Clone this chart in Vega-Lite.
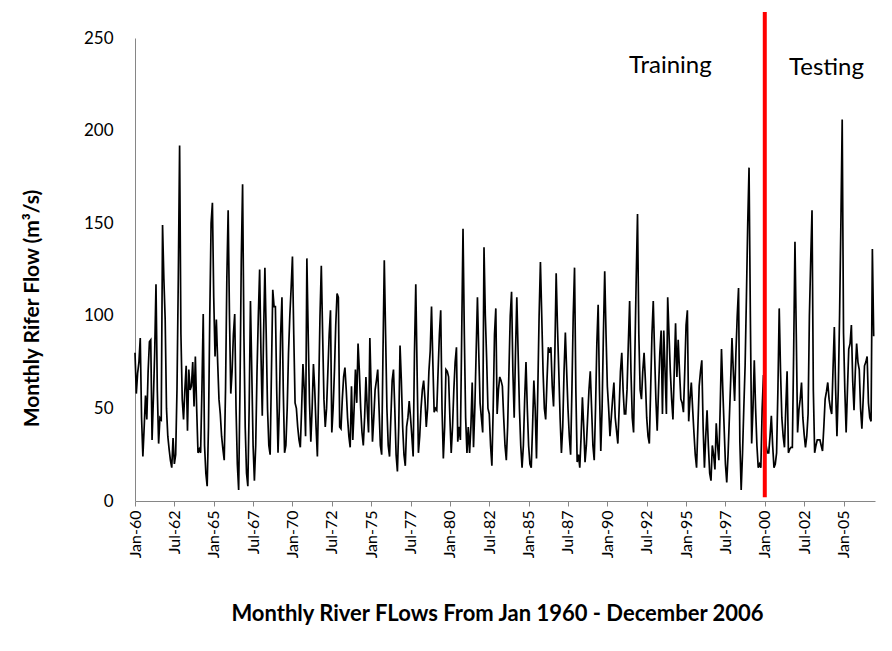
{
"$schema": "https://vega.github.io/schema/vega-lite/v6.json",
"width": 740,
"height": 463,
"autosize": {"type": "none"},
"padding": {"left": 135, "top": 38, "right": 17, "bottom": 150},
"background": "white",
"config": {"view": {"stroke": null}, "font": "Lato"},
"layer": [
{
"data": {"values": [
{"month":0,"flow":80},{"month":1,"flow":58},{"month":2,"flow":69},{"month":3,"flow":75},{"month":4,"flow":88},{"month":5,"flow":45},{"month":6,"flow":24},{"month":7,"flow":40},{"month":8,"flow":57},{"month":9,"flow":44},{"month":10,"flow":70},{"month":11,"flow":86},
{"month":12,"flow":87},{"month":13,"flow":33},{"month":14,"flow":55},{"month":15,"flow":80},{"month":16,"flow":117},{"month":17,"flow":60},{"month":18,"flow":31},{"month":19,"flow":45},{"month":20,"flow":44},{"month":21,"flow":149},{"month":22,"flow":120},{"month":23,"flow":98},
{"month":24,"flow":50},{"month":25,"flow":35},{"month":26,"flow":28},{"month":27,"flow":22},{"month":28,"flow":18},{"month":29,"flow":34},{"month":30,"flow":20},{"month":31,"flow":25},{"month":32,"flow":60},{"month":33,"flow":120},{"month":34,"flow":192},{"month":35,"flow":90},
{"month":36,"flow":55},{"month":37,"flow":44},{"month":38,"flow":60},{"month":39,"flow":73},{"month":40,"flow":38},{"month":41,"flow":71},{"month":42,"flow":60},{"month":43,"flow":62},{"month":44,"flow":75},{"month":45,"flow":51},{"month":46,"flow":78},{"month":47,"flow":50},
{"month":48,"flow":26},{"month":49,"flow":28},{"month":50,"flow":26},{"month":51,"flow":60},{"month":52,"flow":101},{"month":53,"flow":30},{"month":54,"flow":15},{"month":55,"flow":8},{"month":56,"flow":40},{"month":57,"flow":100},{"month":58,"flow":150},{"month":59,"flow":161},
{"month":60,"flow":110},{"month":61,"flow":78},{"month":62,"flow":98},{"month":63,"flow":75},{"month":64,"flow":55},{"month":65,"flow":47},{"month":66,"flow":35},{"month":67,"flow":28},{"month":68,"flow":22},{"month":69,"flow":60},{"month":70,"flow":120},{"month":71,"flow":157},
{"month":72,"flow":100},{"month":73,"flow":58},{"month":74,"flow":70},{"month":75,"flow":90},{"month":76,"flow":101},{"month":77,"flow":50},{"month":78,"flow":20},{"month":79,"flow":6},{"month":80,"flow":60},{"month":81,"flow":130},{"month":82,"flow":171},{"month":83,"flow":90},
{"month":84,"flow":40},{"month":85,"flow":15},{"month":86,"flow":8},{"month":87,"flow":50},{"month":88,"flow":108},{"month":89,"flow":70},{"month":90,"flow":30},{"month":91,"flow":11},{"month":92,"flow":30},{"month":93,"flow":70},{"month":94,"flow":100},{"month":95,"flow":125},
{"month":96,"flow":80},{"month":97,"flow":46},{"month":98,"flow":90},{"month":99,"flow":126},{"month":100,"flow":90},{"month":101,"flow":50},{"month":102,"flow":30},{"month":103,"flow":25},{"month":104,"flow":70},{"month":105,"flow":114},{"month":106,"flow":105},{"month":107,"flow":105},
{"month":108,"flow":60},{"month":109,"flow":26},{"month":110,"flow":50},{"month":111,"flow":90},{"month":112,"flow":110},{"month":113,"flow":60},{"month":114,"flow":26},{"month":115,"flow":30},{"month":116,"flow":50},{"month":117,"flow":80},{"month":118,"flow":100},{"month":119,"flow":115},
{"month":120,"flow":132},{"month":121,"flow":90},{"month":122,"flow":53},{"month":123,"flow":50},{"month":124,"flow":40},{"month":125,"flow":33},{"month":126,"flow":29},{"month":127,"flow":50},{"month":128,"flow":74},{"month":129,"flow":60},{"month":130,"flow":35},{"month":131,"flow":131},
{"month":132,"flow":90},{"month":133,"flow":53},{"month":134,"flow":32},{"month":135,"flow":50},{"month":136,"flow":74},{"month":137,"flow":60},{"month":138,"flow":40},{"month":139,"flow":24},{"month":140,"flow":60},{"month":141,"flow":100},{"month":142,"flow":127},{"month":143,"flow":90},
{"month":144,"flow":55},{"month":145,"flow":40},{"month":146,"flow":50},{"month":147,"flow":70},{"month":148,"flow":90},{"month":149,"flow":103},{"month":150,"flow":37},{"month":151,"flow":50},{"month":152,"flow":70},{"month":153,"flow":95},{"month":154,"flow":112},{"month":155,"flow":110},
{"month":156,"flow":40},{"month":157,"flow":39},{"month":158,"flow":55},{"month":159,"flow":67},{"month":160,"flow":72},{"month":161,"flow":60},{"month":162,"flow":45},{"month":163,"flow":35},{"month":164,"flow":29},{"month":165,"flow":62},{"month":166,"flow":33},{"month":167,"flow":50},
{"month":168,"flow":71},{"month":169,"flow":53},{"month":170,"flow":85},{"month":171,"flow":70},{"month":172,"flow":50},{"month":173,"flow":37},{"month":174,"flow":30},{"month":175,"flow":45},{"month":176,"flow":67},{"month":177,"flow":50},{"month":178,"flow":37},{"month":179,"flow":88},
{"month":180,"flow":60},{"month":181,"flow":32},{"month":182,"flow":45},{"month":183,"flow":60},{"month":184,"flow":65},{"month":185,"flow":71},{"month":186,"flow":50},{"month":187,"flow":30},{"month":188,"flow":25},{"month":189,"flow":80},{"month":190,"flow":130},{"month":191,"flow":90},
{"month":192,"flow":50},{"month":193,"flow":30},{"month":194,"flow":24},{"month":195,"flow":45},{"month":196,"flow":65},{"month":197,"flow":71},{"month":198,"flow":50},{"month":199,"flow":25},{"month":200,"flow":16},{"month":201,"flow":40},{"month":202,"flow":84},{"month":203,"flow":65},
{"month":204,"flow":40},{"month":205,"flow":25},{"month":206,"flow":19},{"month":207,"flow":40},{"month":208,"flow":45},{"month":209,"flow":54},{"month":210,"flow":45},{"month":211,"flow":35},{"month":212,"flow":24},{"month":213,"flow":80},{"month":214,"flow":117},{"month":215,"flow":70},
{"month":216,"flow":26},{"month":217,"flow":35},{"month":218,"flow":50},{"month":219,"flow":60},{"month":220,"flow":65},{"month":221,"flow":55},{"month":222,"flow":40},{"month":223,"flow":50},{"month":224,"flow":70},{"month":225,"flow":81},{"month":226,"flow":105},{"month":227,"flow":75},
{"month":228,"flow":48},{"month":229,"flow":50},{"month":230,"flow":49},{"month":231,"flow":70},{"month":232,"flow":90},{"month":233,"flow":103},{"month":234,"flow":50},{"month":235,"flow":23},{"month":236,"flow":40},{"month":237,"flow":71},{"month":238,"flow":70},{"month":239,"flow":67},
{"month":240,"flow":45},{"month":241,"flow":26},{"month":242,"flow":40},{"month":243,"flow":60},{"month":244,"flow":75},{"month":245,"flow":83},{"month":246,"flow":32},{"month":247,"flow":40},{"month":248,"flow":33},{"month":249,"flow":90},{"month":250,"flow":147},{"month":251,"flow":90},
{"month":252,"flow":45},{"month":253,"flow":26},{"month":254,"flow":40},{"month":255,"flow":26},{"month":256,"flow":40},{"month":257,"flow":64},{"month":258,"flow":29},{"month":259,"flow":50},{"month":260,"flow":80},{"month":261,"flow":110},{"month":262,"flow":80},{"month":263,"flow":53},
{"month":264,"flow":45},{"month":265,"flow":37},{"month":266,"flow":137},{"month":267,"flow":100},{"month":268,"flow":77},{"month":269,"flow":50},{"month":270,"flow":47},{"month":271,"flow":30},{"month":272,"flow":19},{"month":273,"flow":50},{"month":274,"flow":90},{"month":275,"flow":104},
{"month":276,"flow":47},{"month":277,"flow":60},{"month":278,"flow":67},{"month":279,"flow":65},{"month":280,"flow":62},{"month":281,"flow":45},{"month":282,"flow":30},{"month":283,"flow":22},{"month":284,"flow":40},{"month":285,"flow":70},{"month":286,"flow":100},{"month":287,"flow":113},
{"month":288,"flow":70},{"month":289,"flow":45},{"month":290,"flow":80},{"month":291,"flow":110},{"month":292,"flow":80},{"month":293,"flow":50},{"month":294,"flow":30},{"month":295,"flow":18},{"month":296,"flow":30},{"month":297,"flow":55},{"month":298,"flow":75},{"month":299,"flow":50},
{"month":300,"flow":30},{"month":301,"flow":20},{"month":302,"flow":18},{"month":303,"flow":40},{"month":304,"flow":65},{"month":305,"flow":50},{"month":306,"flow":23},{"month":307,"flow":60},{"month":308,"flow":100},{"month":309,"flow":129},{"month":310,"flow":100},{"month":311,"flow":70},
{"month":312,"flow":50},{"month":313,"flow":44},{"month":314,"flow":65},{"month":315,"flow":83},{"month":316,"flow":80},{"month":317,"flow":83},{"month":318,"flow":62},{"month":319,"flow":51},{"month":320,"flow":80},{"month":321,"flow":123},{"month":322,"flow":94},{"month":323,"flow":70},
{"month":324,"flow":45},{"month":325,"flow":26},{"month":326,"flow":40},{"month":327,"flow":70},{"month":328,"flow":91},{"month":329,"flow":70},{"month":330,"flow":50},{"month":331,"flow":35},{"month":332,"flow":25},{"month":333,"flow":60},{"month":334,"flow":100},{"month":335,"flow":126},
{"month":336,"flow":60},{"month":337,"flow":21},{"month":338,"flow":25},{"month":339,"flow":18},{"month":340,"flow":35},{"month":341,"flow":56},{"month":342,"flow":40},{"month":343,"flow":21},{"month":344,"flow":30},{"month":345,"flow":45},{"month":346,"flow":60},{"month":347,"flow":70},
{"month":348,"flow":50},{"month":349,"flow":30},{"month":350,"flow":22},{"month":351,"flow":50},{"month":352,"flow":85},{"month":353,"flow":106},{"month":354,"flow":60},{"month":355,"flow":27},{"month":356,"flow":50},{"month":357,"flow":90},{"month":358,"flow":124},{"month":359,"flow":90},
{"month":360,"flow":62},{"month":361,"flow":50},{"month":362,"flow":35},{"month":363,"flow":45},{"month":364,"flow":55},{"month":365,"flow":64},{"month":366,"flow":45},{"month":367,"flow":38},{"month":368,"flow":31},{"month":369,"flow":50},{"month":370,"flow":70},{"month":371,"flow":80},
{"month":372,"flow":60},{"month":373,"flow":47},{"month":374,"flow":47},{"month":375,"flow":60},{"month":376,"flow":85},{"month":377,"flow":108},{"month":378,"flow":70},{"month":379,"flow":45},{"month":380,"flow":37},{"month":381,"flow":80},{"month":382,"flow":120},{"month":383,"flow":155},
{"month":384,"flow":90},{"month":385,"flow":60},{"month":386,"flow":55},{"month":387,"flow":70},{"month":388,"flow":80},{"month":389,"flow":65},{"month":390,"flow":45},{"month":391,"flow":35},{"month":392,"flow":31},{"month":393,"flow":60},{"month":394,"flow":90},{"month":395,"flow":108},
{"month":396,"flow":80},{"month":397,"flow":55},{"month":398,"flow":38},{"month":399,"flow":60},{"month":400,"flow":80},{"month":401,"flow":92},{"month":402,"flow":47},{"month":403,"flow":92},{"month":404,"flow":70},{"month":405,"flow":47},{"month":406,"flow":110},{"month":407,"flow":90},
{"month":408,"flow":70},{"month":409,"flow":55},{"month":410,"flow":44},{"month":411,"flow":70},{"month":412,"flow":96},{"month":413,"flow":67},{"month":414,"flow":87},{"month":415,"flow":70},{"month":416,"flow":55},{"month":417,"flow":53},{"month":418,"flow":48},{"month":419,"flow":70},
{"month":420,"flow":95},{"month":421,"flow":103},{"month":422,"flow":43},{"month":423,"flow":55},{"month":424,"flow":64},{"month":425,"flow":50},{"month":426,"flow":37},{"month":427,"flow":25},{"month":428,"flow":18},{"month":429,"flow":40},{"month":430,"flow":62},{"month":431,"flow":70},
{"month":432,"flow":76},{"month":433,"flow":40},{"month":434,"flow":18},{"month":435,"flow":35},{"month":436,"flow":49},{"month":437,"flow":30},{"month":438,"flow":15},{"month":439,"flow":11},{"month":440,"flow":30},{"month":441,"flow":25},{"month":442,"flow":17},{"month":443,"flow":42},
{"month":444,"flow":30},{"month":445,"flow":22},{"month":446,"flow":50},{"month":447,"flow":82},{"month":448,"flow":60},{"month":449,"flow":40},{"month":450,"flow":20},{"month":451,"flow":10},{"month":452,"flow":25},{"month":453,"flow":45},{"month":454,"flow":65},{"month":455,"flow":88},
{"month":456,"flow":70},{"month":457,"flow":54},{"month":458,"flow":80},{"month":459,"flow":100},{"month":460,"flow":115},{"month":461,"flow":32},{"month":462,"flow":6},{"month":463,"flow":25},{"month":464,"flow":50},{"month":465,"flow":73},{"month":466,"flow":110},{"month":467,"flow":150},
{"month":468,"flow":180},{"month":469,"flow":100},{"month":470,"flow":31},{"month":471,"flow":50},{"month":472,"flow":76},{"month":473,"flow":50},{"month":474,"flow":30},{"month":475,"flow":18},{"month":476,"flow":20},{"month":477,"flow":18},{"month":478,"flow":50},{"month":479,"flow":68},
{"month":480,"flow":40},{"month":481,"flow":30},{"month":482,"flow":26},{"month":483,"flow":26},{"month":484,"flow":35},{"month":485,"flow":46},{"month":486,"flow":30},{"month":487,"flow":18},{"month":488,"flow":20},{"month":489,"flow":26},{"month":490,"flow":60},{"month":491,"flow":104},
{"month":492,"flow":70},{"month":493,"flow":45},{"month":494,"flow":35},{"month":495,"flow":29},{"month":496,"flow":50},{"month":497,"flow":70},{"month":498,"flow":26},{"month":499,"flow":28},{"month":500,"flow":29},{"month":501,"flow":29},{"month":502,"flow":80},{"month":503,"flow":140},
{"month":504,"flow":90},{"month":505,"flow":37},{"month":506,"flow":49},{"month":507,"flow":55},{"month":508,"flow":64},{"month":509,"flow":45},{"month":510,"flow":36},{"month":511,"flow":29},{"month":512,"flow":35},{"month":513,"flow":47},{"month":514,"flow":100},{"month":515,"flow":130},
{"month":516,"flow":157},{"month":517,"flow":60},{"month":518,"flow":26},{"month":519,"flow":30},{"month":520,"flow":33},{"month":521,"flow":33},{"month":522,"flow":33},{"month":523,"flow":30},{"month":524,"flow":27},{"month":525,"flow":40},{"month":526,"flow":55},{"month":527,"flow":59},
{"month":528,"flow":64},{"month":529,"flow":55},{"month":530,"flow":50},{"month":531,"flow":47},{"month":532,"flow":71},{"month":533,"flow":94},{"month":534,"flow":60},{"month":535,"flow":35},{"month":536,"flow":60},{"month":537,"flow":100},{"month":538,"flow":150},{"month":539,"flow":206},
{"month":540,"flow":91},{"month":541,"flow":60},{"month":542,"flow":37},{"month":543,"flow":60},{"month":544,"flow":82},{"month":545,"flow":85},{"month":546,"flow":95},{"month":547,"flow":65},{"month":548,"flow":49},{"month":549,"flow":70},{"month":550,"flow":85},{"month":551,"flow":75},
{"month":552,"flow":71},{"month":553,"flow":50},{"month":554,"flow":39},{"month":555,"flow":55},{"month":556,"flow":73},{"month":557,"flow":75},{"month":558,"flow":78},{"month":559,"flow":53},{"month":560,"flow":45},{"month":561,"flow":43},{"month":562,"flow":136},{"month":563,"flow":89}
]},
"mark": {"type": "line", "color": "black", "strokeWidth": 1.7},
"encoding": {
"x": {"field": "month", "type": "quantitative",
"scale": {"domain": [0, 564], "nice": false, "zero": false},
"axis": {"values": [0,30,60,90,120,150,180,210,240,270,300,330,360,390,420,450,480,510,540],
"labelExpr": "timeFormat(datetime(1960, datum.value, 1), '%b-%y')",
"labelAngle": -90, "labelFontSize": 16, "labelColor": "black", "labelPadding": 4,
"domainColor": "#868686", "tickColor": "#868686", "tickSize": 5, "grid": false,
"title": "Monthly River FLows From Jan 1960 - December 2006",
"titleFontSize": 22, "titleFontWeight": "bold", "titleColor": "black",
"titleX": 362, "titleY": 112, "titleBaseline": "middle"}},
"y": {"field": "flow", "type": "quantitative",
"scale": {"domain": [0, 250], "nice": false},
"axis": {"values": [0,50,100,150,200,250], "grid": false, "ticks": false,
"labelFontSize": 17, "labelColor": "black", "labelPadding": 22,
"domainColor": "#868686",
"title": "Monthly Rifer Flow (m³/s)", "titleFontSize": 21, "titleFontWeight": "bold", "titleColor": "black",
"titleX": -103, "titleY": 270, "titleBaseline": "middle"}}
}
},
{
"data": {"values": [{"split": 480, "low": 2, "high": 264}]},
"mark": {"type": "rule", "color": "#FF0000", "strokeWidth": 4},
"encoding": {
"x": {"field": "split", "type": "quantitative"},
"y": {"field": "low", "type": "quantitative"},
"y2": {"field": "high"}
}
},
{
"data": {"values": [{"label": "Training", "at": 408, "level": 235}, {"label": "Testing", "at": 527, "level": 234}]},
"mark": {"type": "text", "fontSize": 24, "color": "black", "font": "Lato"},
"encoding": {
"x": {"field": "at", "type": "quantitative"},
"y": {"field": "level", "type": "quantitative"},
"text": {"field": "label"}
}
}
]
}
